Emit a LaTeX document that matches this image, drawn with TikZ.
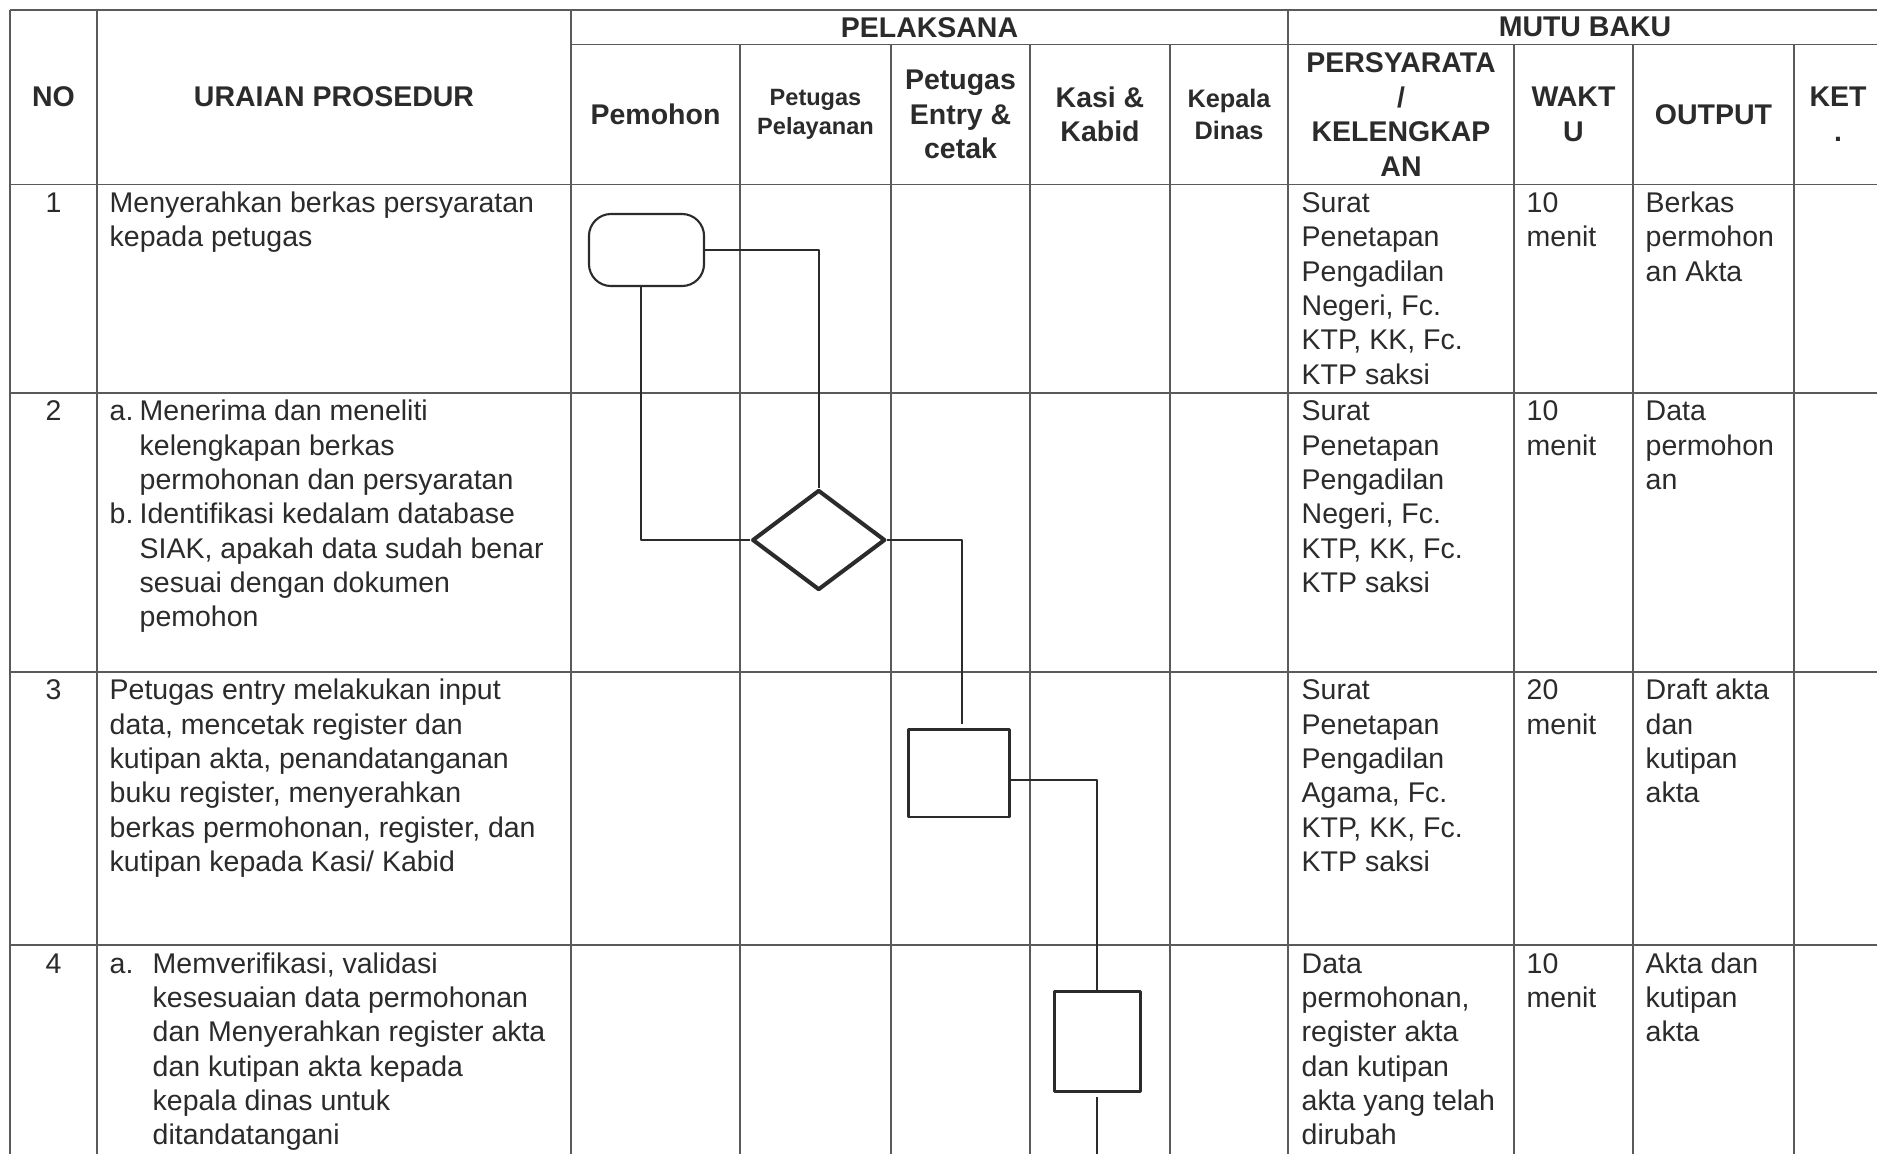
\documentclass[tikz,border=0pt]{standalone}
\usepackage{fontspec}
\setmainfont{Liberation Sans}
\usetikzlibrary{shapes.geometric}
\definecolor{ink}{HTML}{2B2B2B}
\definecolor{rule}{HTML}{5A5A5A}
\newcommand{\txtfont}{\fontsize{8.1}{9.76}\selectfont}
\newcommand{\hdfont}{\fontsize{8.1}{9.8}\selectfont\bfseries}
\newcommand{\hdsmall}{\fontsize{6.7}{8.2}\selectfont\bfseries}
\newcommand{\hdmid}{\fontsize{7.2}{9.1}\selectfont\bfseries}
\newcommand{\indA}{\hspace*{0.3cm}}
\newcommand{\indB}{\hspace*{0.43cm}}
\begin{document}
\begin{tikzpicture}[x=0.01cm, y=-0.01cm, line join=round,
		tabline/.style={draw=rule, line width=0.45pt},
		cell/.style={anchor=north west, inner sep=0pt, align=left, font=\txtfont, text=ink},
		num/.style={anchor=north, inner sep=0pt, font=\txtfont, text=ink},
		hdr/.style={inner sep=0pt, align=center, font=\hdfont, text=ink},
		link/.style={draw=ink, line width=0.55pt},
		term/.style={draw=ink, line width=0.6pt, rounded corners=0.22cm, minimum width=1.15cm, minimum height=0.72cm},
		decision/.style={draw=ink, diamond, line width=1.15pt, aspect=1.32, minimum width=1.33cm, minimum height=1.0cm, inner sep=0pt},
		proc/.style={draw=ink, line width=0.8pt, inner sep=0pt}]
	\useasboundingbox (0,0) rectangle (1877,1154);
	\fill[white] (0,0) rectangle (1877,1154);
	\clip (0,0) rectangle (1877,1154);
	\draw[tabline] (10,10) -- (1877,10);
	\draw[tabline] (571,44.5) -- (1877,44.5);
	\foreach \y in {184.3,392.7,671.7,945} \draw[tabline] (10,\y) -- (1877,\y);
	\foreach \x in {10,97,571,1288} \draw[tabline] (\x,10) -- (\x,1154);
	\foreach \x in {740,891,1030,1170,1514,1633,1794} \draw[tabline] (\x,44.5) -- (\x,1154);
	\node[hdr] (hno) at (53.5,97) {NO};
	\node[hdr] (hurai) at (334,97) {URAIAN PROSEDUR};
	\node[hdr] (hpel) at (929.5,27.3) {PELAKSANA};
	\node[hdr] (hmutu) at (1585,27.3) {MUTU BAKU};
	\node[hdr] (hpem) at (655.5,114.4) {Pemohon};
	\node[hdr, font=\hdsmall] (hlayan) at (815.5,114.4) {Petugas\\Pelayanan};
	\node[hdr] (hentri) at (960.5,114.4) {Petugas\\Entry \&\\cetak};
	\node[hdr] (hkasi) at (1100,114.4) {Kasi \&\\Kabid};
	\node[hdr, font=\hdmid] (hkadis) at (1229,114.4) {Kepala\\Dinas};
	\node[hdr] (hsyarat) at (1401,114.4) {PERSYARATA\\/\\KELENGKAP\\AN};
	\node[hdr] (hwaktu) at (1573.5,114.4) {WAKT\\U};
	\node[hdr] (houtput) at (1713.5,114.4) {OUTPUT};
	\node[hdr] (hket) at (1838,114.4) {KET\\.};
	\node[num] (n1) at (53.5,187.7) {\strut 1};
	\node[num] (n2) at (53.5,396.1) {\strut 2};
	\node[num] (n3) at (53.5,675.1) {\strut 3};
	\node[num] (n4) at (53.5,948.4) {\strut 4};
	\node[cell] (u1) at (109,187.7) {\strut Menyerahkan berkas persyaratan\\kepada petugas};
	\node[cell] (u2) at (109,396.1) {\strut\makebox[0.3cm][l]{a.}Menerima dan meneliti\\\indA kelengkapan berkas\\\indA permohonan dan persyaratan\\\makebox[0.3cm][l]{b.}Identifikasi kedalam database\\\indA SIAK, apakah data sudah benar\\\indA sesuai dengan dokumen\\\indA pemohon};
	\node[cell] (u3) at (109,675.1) {\strut Petugas entry melakukan input\\data, mencetak register dan\\kutipan akta, penandatanganan\\buku register, menyerahkan\\berkas permohonan, register, dan\\kutipan kepada Kasi/ Kabid};
	\node[cell] (u4) at (109,948.4) {\strut\makebox[0.43cm][l]{a.}Memverifikasi, validasi\\\indB kesesuaian data permohonan\\\indB dan Menyerahkan register akta\\\indB dan kutipan akta kepada\\\indB kepala dinas untuk\\\indB ditandatangani};
	\node[cell] (p1) at (1301,187.7) {\strut Surat\\Penetapan\\Pengadilan\\Negeri, Fc.\\KTP, KK, Fc.\\KTP saksi};
	\node[cell] (p2) at (1301,396.1) {\strut Surat\\Penetapan\\Pengadilan\\Negeri, Fc.\\KTP, KK, Fc.\\KTP saksi};
	\node[cell] (p3) at (1301,675.1) {\strut Surat\\Penetapan\\Pengadilan\\Agama, Fc.\\KTP, KK, Fc.\\KTP saksi};
	\node[cell] (p4) at (1301,948.4) {\strut Data\\permohonan,\\register akta\\dan kutipan\\akta yang telah\\dirubah};
	\node[cell] (w1) at (1526,187.7) {\strut 10\\menit};
	\node[cell] (w2) at (1526,396.1) {\strut 10\\menit};
	\node[cell] (w3) at (1526,675.1) {\strut 20\\menit};
	\node[cell] (w4) at (1526,948.4) {\strut 10\\menit};
	\node[cell] (o1) at (1645,187.7) {\strut Berkas\\permohon\\an Akta};
	\node[cell] (o2) at (1645,396.1) {\strut Data\\permohon\\an};
	\node[cell] (o3) at (1645,675.1) {\strut Draft akta\\dan\\kutipan\\akta};
	\node[cell] (o4) at (1645,948.4) {\strut Akta dan\\kutipan\\akta};
	\node[term] (mulai) at (646.5,250) {};
	\node[decision] (cek) at (818.7,540) {};
	\node[proc, minimum width=1.01cm, minimum height=0.87cm] (entri) at (959.2,773.4) {};
	\node[proc, minimum width=0.86cm, minimum height=1.0cm] (verif) at (1097.3,1041.7) {};
	\coordinate (lanjut) at (1097.3,1154);
	\draw[link] (mulai.east) -| (cek.north);
	\draw[link] ([xshift=-0.055cm]mulai.south) |- (cek.west);
	\draw[link, shorten >=0.04cm] (cek.east) -| ([xshift=0.03cm]entri.north);
	\draw[link] ([yshift=-0.07cm]entri.east) -| (verif.north);
	\draw[link, shorten <=0.04cm] (verif.south) -- (lanjut);
\end{tikzpicture}
\end{document}
